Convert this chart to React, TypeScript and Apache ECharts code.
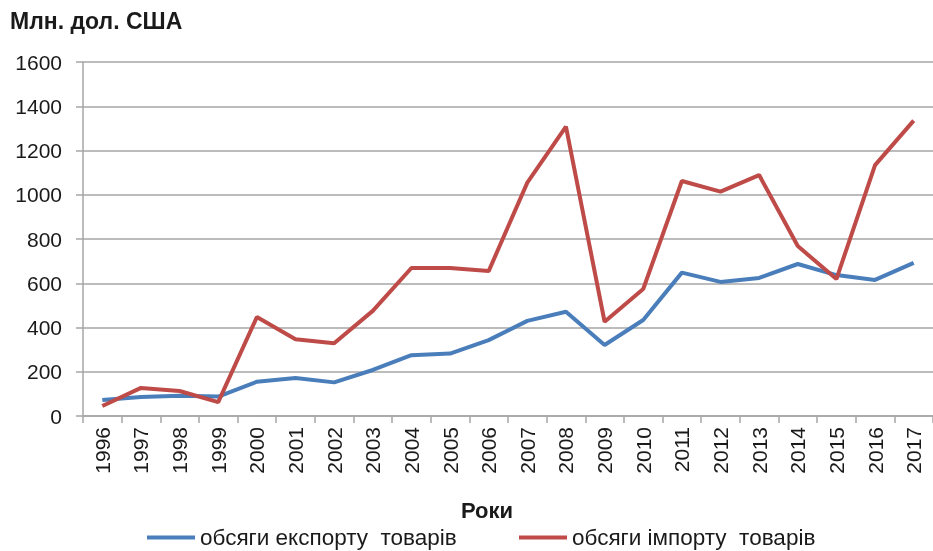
import React, { useEffect, useRef } from "react";
import * as echarts from "echarts";

const years = ["1996","1997","1998","1999","2000","2001","2002","2003","2004","2005","2006","2007","2008","2009","2010","2011","2012","2013","2014","2015","2016","2017"];
const exportValues = [72, 86, 92, 88, 155, 172, 152, 208, 275, 282, 343, 430, 471, 321, 434, 648, 606, 624, 687, 637, 615, 692];
const importValues = [45, 127, 113, 63, 447, 347, 329, 475, 669, 669, 655, 1055, 1308, 426, 574, 1062, 1014, 1089, 768, 619, 1134, 1335];
const exportName = "обсяги експорту  товарів";
const importName = "обсяги імпорту  товарів";
const yTitle = "Млн. дол. США";
const xTitle = "Роки";

export default function App() {
  const ref = useRef<HTMLDivElement>(null);
  useEffect(() => {
    if (!ref.current) return;
    const chart = echarts.init(ref.current, null, { renderer: "svg" });
    const font = "Liberation Sans, Arial, sans-serif";
    const gray = "#a6a6a6";
    const ink = "#1a1a1a";
    chart.setOption({
      animation: false,
      textStyle: { fontFamily: font },
      graphic: [
        { type: "text", x: 10, y: 21, style: { text: yTitle, font: `bold 23px ${font}`, fill: ink, textAlign: "left", textVerticalAlign: "middle" } },
        { type: "text", x: 487, y: 510, style: { text: xTitle, font: `bold 22px ${font}`, fill: ink, textAlign: "center", textVerticalAlign: "middle" } },
      ],
      legend: [
        { data: [exportName], left: 142, top: 521, itemWidth: 48, itemHeight: 4, icon: "rect", textStyle: { fontFamily: font, fontSize: 22.5, color: ink } },
        { data: [importName], left: 514, top: 521, itemWidth: 48, itemHeight: 4, icon: "rect", textStyle: { fontFamily: font, fontSize: 22.5, color: ink } },
      ],
      grid: { left: 83, right: -5, top: 62, bottom: 135, containLabel: false },
      xAxis: {
        type: "category",
        data: years,
        boundaryGap: true,
        axisLine: { show: true, lineStyle: { color: gray, width: 1.5 } },
        axisTick: { show: true, length: 7, lineStyle: { color: gray, width: 1.5 } },
        axisLabel: { rotate: 90, margin: 11, fontSize: 21, color: ink, fontFamily: font, interval: 0 },
        splitLine: { show: false },
      },
      yAxis: {
        type: "value",
        min: 0,
        max: 1600,
        interval: 200,
        axisLine: { show: true, lineStyle: { color: gray, width: 1.5 } },
        axisTick: { show: true, length: 7, lineStyle: { color: gray, width: 1.5 } },
        axisLabel: { margin: 21, fontSize: 21, color: ink, fontFamily: font, formatter: (v: number) => String(v) },
        splitLine: { show: true, lineStyle: { color: gray, width: 1.5 } },
      },
      series: [
        { name: exportName, type: "line", data: exportValues, symbol: "none", lineStyle: { color: "#4a7ebb", width: 4 }, itemStyle: { color: "#4a7ebb" } },
        { name: importName, type: "line", data: importValues, symbol: "none", lineStyle: { color: "#be4b48", width: 4 }, itemStyle: { color: "#be4b48" } },
      ],
    });
    return () => chart.dispose();
  }, []);
  return <div ref={ref} style={{ position: "fixed", left: 0, top: 0, width: 933, height: 551 }} />;
}
